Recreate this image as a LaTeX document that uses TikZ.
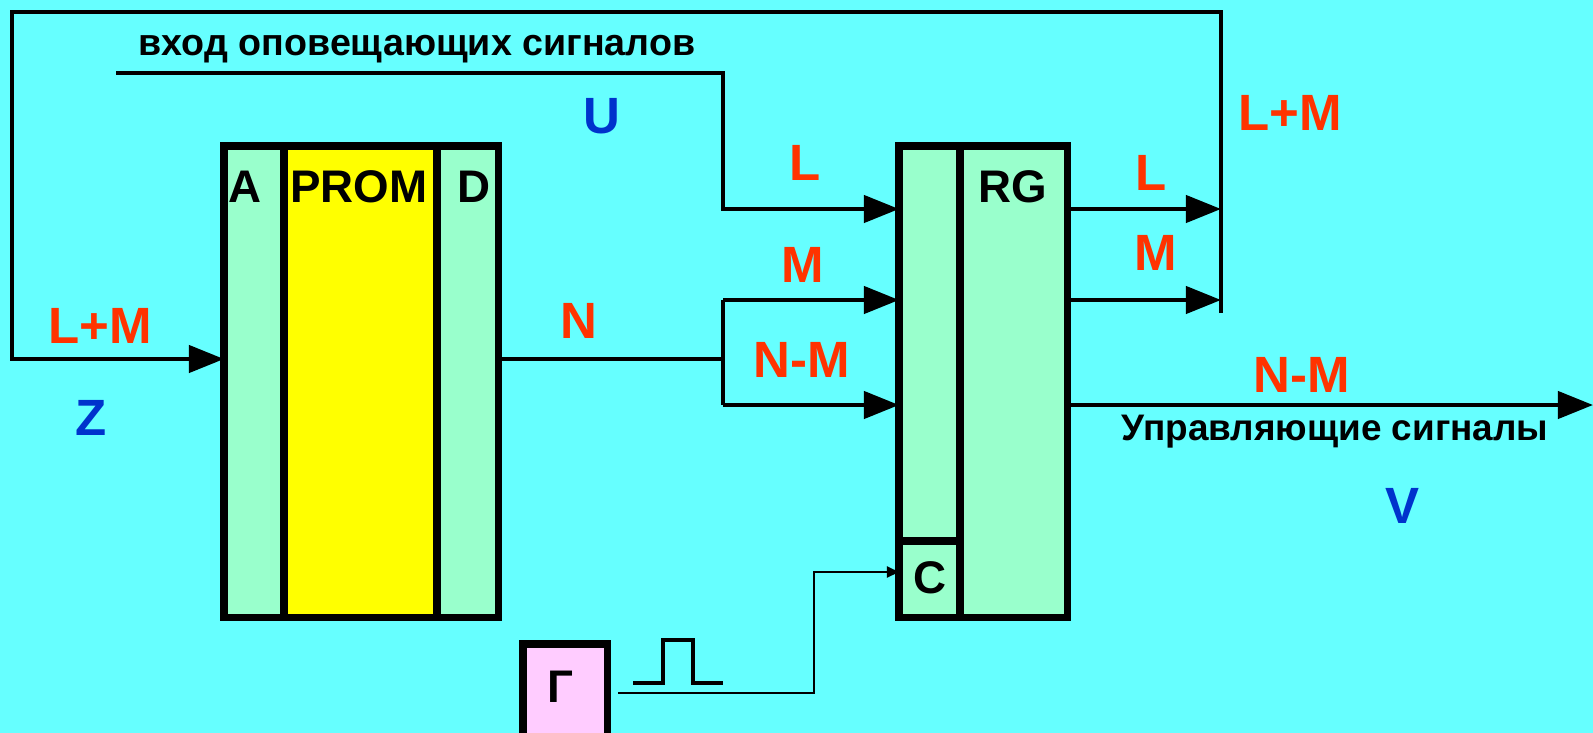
\documentclass[tikz,border=0pt]{standalone}
\usepackage{fontspec}
\setmainfont{Liberation Sans}
\usetikzlibrary{positioning,arrows.meta,calc}
\definecolor{bgcyan}{HTML}{66FFFF}
\definecolor{secgreen}{HTML}{99FFCC}
\definecolor{romyellow}{HTML}{FFFF00}
\definecolor{genpink}{HTML}{FFCCFF}
\definecolor{lblred}{HTML}{FF3300}
\definecolor{lblblue}{HTML}{0033CC}
\tikzset{
  sect/.style   ={draw, rectangle, line width=2pt, fill=secgreen, anchor=north west, inner sep=0pt, outer sep=0pt},
  rom/.style    ={sect, fill=romyellow},
  genbox/.style ={sect, fill=genpink},
  blklbl/.style ={anchor=base, inner sep=0pt, font=\bfseries\fontsize{13}{15}\selectfont},
  sig/.style    ={anchor=base, inner sep=0pt, text=lblred, font=\bfseries\fontsize{14.5}{17}\selectfont},
  var/.style    ={sig, text=lblblue},
  txt/.style    ={anchor=base, inner sep=0pt, font=\bfseries\fontsize{10.7}{13}\selectfont},
  wire/.style   ={line width=1.2pt},
  arr/.style    ={wire, -{Triangle[length=3.5mm, width=2.7mm]}},
  clkarr/.style ={line width=0.6pt, -{Triangle[length=1.2mm, width=1.1mm]}},
  pulse/.style  ={line width=1.4pt},
}

\begin{document}
\begin{tikzpicture}[x=0.01cm, y=-0.01cm]
  \useasboundingbox (0,0) rectangle (1593,733);
  \fill[bgcyan] (0,0) rectangle (1593,733);
  \clip (0,0) rectangle (1593,733);

  \node[sect, minimum width=0.6cm, minimum height=4.71cm] (adr) at (224,146) {};
  \node[rom, minimum width=1.53cm, minimum height=4.71cm] (prom) at (284,146) {};
  \node[sect, minimum width=0.61cm, minimum height=4.71cm] (dat) at (437,146) {};
  \node[sect, minimum width=0.61cm, minimum height=3.95cm] (rgin) at (899,146) {};
  \node[sect, minimum width=0.61cm, minimum height=0.76cm] (clkin) at (899,541) {};
  \node[sect, minimum width=1.07cm, minimum height=4.71cm] (rg) at (960,146) {};
  \node[genbox, minimum width=0.84cm, minimum height=1.2cm] (gen) at (523,644) {};

  \node[blklbl] (la) at (245,202) {A};
  \node[blklbl] (lprom) at (359,202) {PROM};
  \node[blklbl] (ld) at (474,202) {D};
  \node[blklbl] (lrg) at (1013,202) {RG};
  \node[blklbl] (lc) at (930,593) {C};
  \node[blklbl] (lgen) at (560,702) {Г};

  \node[txt, anchor=base west] (inlbl) at (138,55) {вход оповещающих сигналов};
  \node[txt, font=\bfseries\fontsize{10.5}{12}\selectfont] (outlbl) at (1335,440) {Управляющие сигналы};
  \node[sig] (lmz) at (100,343) {L+M};
  \node[var] (z) at (91,435) {Z};
  \node[var] (u) at (602,133) {U};
  \node[sig] (n) at (579,338) {N};
  \node[sig] (lin) at (805,180) {L};
  \node[sig] (min) at (803,282) {M};
  \node[sig] (nmin) at (802,377) {N-M};
  \node[sig] (lout) at (1151,190) {L};
  \node[sig] (mout) at (1156,270) {M};
  \node[sig] (lmout) at (1290,130) {L+M};
  \node[sig] (nmout) at (1302,392) {N-M};
  \node[var] (v) at (1402,523) {V};

  \coordinate (bus) at (1221,313);
  \coordinate (bustop) at (1221,12);
  \coordinate (loop) at (12,12);
  \coordinate (uin) at (116,73);
  \coordinate (ubend) at (723,73);
  \coordinate (br) at (723,359);
  \coordinate (vout) at (1593,405);
  \coordinate (clk) at (618,693);
  \coordinate (clkup) at (814,572);
  \coordinate (yl) at (0,209);
  \coordinate (ym) at (0,300);
  \coordinate (ynm) at (0,405);

  \draw[arr] (bus) -- (bustop) -- (loop) |- (adr.west |- br);
  \draw[arr] (uin) -- (ubend) |- (rgin.west |- yl);
  \draw[wire] (dat.east |- br) -- (br);
  \draw[wire] (br |- ym) -- (br |- ynm);
  \draw[arr] (br |- ym) -- (rgin.west |- ym);
  \draw[arr] (br |- ynm) -- (rgin.west |- ynm);
  \draw[arr] (rg.east |- yl) -- (bus |- yl);
  \draw[arr] (rg.east |- ym) -- (bus |- ym);
  \draw[arr] (rg.east |- ynm) -- (vout);
  \draw[clkarr] (clk) -| (clkup) -- (clkin.west |- clkup);
  \draw[pulse] (633,683) -- (663,683) -- (663,640) -- (693,640) -- (693,683) -- (723,683);
\end{tikzpicture}
\end{document}
